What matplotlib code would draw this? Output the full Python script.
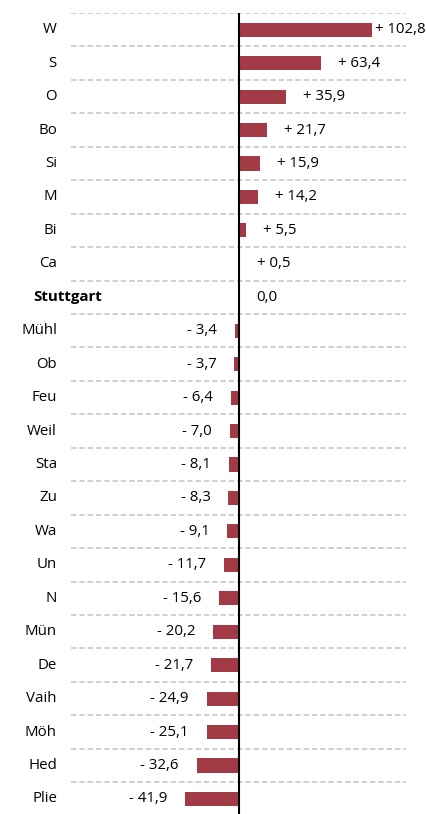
import matplotlib.pyplot as plt
from matplotlib import transforms

plt.rcParams['font.family'] = ['Open Sans', 'DejaVu Sans']

districts = ['W', 'S', 'O', 'Bo', 'Si', 'M', 'Bi', 'Ca', 'Stuttgart',
             'Mühl', 'Ob', 'Feu', 'Weil', 'Sta', 'Zu', 'Wa', 'Un', 'N',
             'Mün', 'De', 'Vaih', 'Möh', 'Hed', 'Plie']
change = [102.8, 63.4, 35.9, 21.7, 15.9, 14.2, 5.5, 0.5, 0.0,
          -3.4, -3.7, -6.4, -7.0, -8.1, -8.3, -9.1, -11.7, -15.6,
          -20.2, -21.7, -24.9, -25.1, -32.6, -41.9]

bar_color = '#a33b46'
grid_color = '#cccccc'
fs = 10.8


def fmt(v):
    s = f'{abs(v):.1f}'.replace('.', ',')
    if v > 0:
        return '+ ' + s
    if v < 0:
        return '- ' + s
    return s


fig = plt.figure(figsize=(4.26, 8.14), dpi=100)
ax = fig.add_axes([71 / 426, 0, (406 - 71) / 426, 1 - 13 / 814])

n = len(districts)
ypos = list(range(n))
ax.barh(ypos, change, height=0.42, color=bar_color, zorder=3)

ax.set_xlim(-130, 129)
ax.set_ylim(n - 0.55, -0.5)

# dashed separators between the rows
for b in range(n):
    ax.axhline(b - 0.5, color=grid_color, lw=1.3, ls=(0, (3, 1.6)), zorder=1)
ax.axvline(0, color='black', lw=1.5, zorder=4)

# district names: x in figure fraction, y in data
name_tr = transforms.blended_transform_factory(fig.transFigure, ax.transData)

for y, (name, v) in enumerate(zip(districts, change)):
    if name == 'Stuttgart':
        ax.text(33 / 426, y, name, ha='left', va='center', fontsize=fs,
                fontweight='bold', transform=name_tr)
    else:
        ax.text(57 / 426, y, name, ha='right', va='center', fontsize=fs,
                transform=name_tr)
    if v >= 0:
        pad = 3 if v > 100 else 17
        tr = transforms.offset_copy(ax.transData, fig, x=pad, units='dots')
        ax.text(v, y, fmt(v), ha='left', va='center', fontsize=fs, transform=tr)
    else:
        tr = transforms.offset_copy(ax.transData, fig, x=-18, units='dots')
        ax.text(v, y, fmt(v), ha='right', va='center', fontsize=fs, transform=tr)

ax.axis('off')
fig.savefig('out.png', dpi=100)
